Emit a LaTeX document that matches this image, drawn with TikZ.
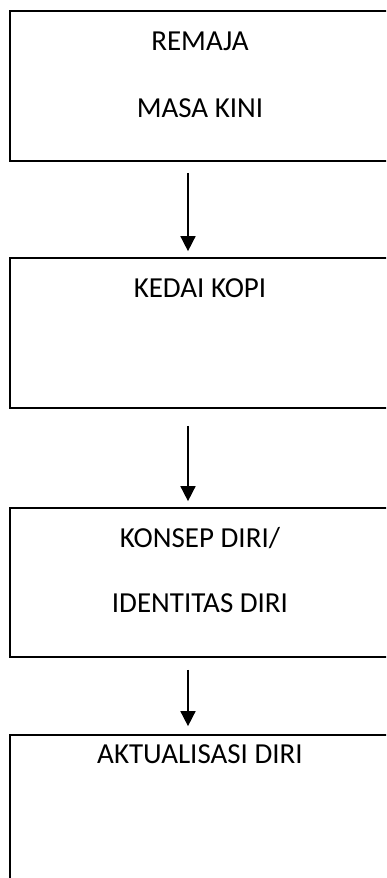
\documentclass[tikz,border=0pt]{standalone}
\usepackage{fontspec}
\setmainfont{Carlito}
\usetikzlibrary{arrows.meta}
\tikzset{
  flowbox/.style={draw=black, line width=1.7pt, rectangle, minimum width=380pt, inner sep=0pt},
  boxtext/.style={anchor=base, inner sep=0pt, font=\fontsize{29}{34}\selectfont},
  flowarrow/.style={draw=black, line width=1.6pt, -{Triangle[width=15pt,length=15pt]}},
}
\begin{document}
\begin{tikzpicture}[x=1pt,y=-1pt]
  \clip (0,0) rectangle (386,878);
  \fill[white] (0,0) rectangle (386,878);

  % boxes of the flow
  \node[flowbox, minimum height=150pt] (b1) at (200,86) {};
  \node[flowbox, minimum height=150pt] (b2) at (200,333) {};
  \node[flowbox, minimum height=149pt] (b3) at (200,582.5) {};
  \node[flowbox, minimum height=200pt] (b4) at (200,835) {};

  % labels
  \node[boxtext] (t1a) at (200,50) {REMAJA};
  \node[boxtext] (t1b) at (200,117) {MASA KINI};
  \node[boxtext] (t2)  at (200,297.5) {KEDAI KOPI};
  \node[boxtext] (t3a) at (200,547) {KONSEP DIRI/};
  \node[boxtext] (t3b) at (200,612) {IDENTITAS DIRI};
  \node[boxtext] (t4)  at (200,763) {AKTUALISASI DIRI};

  % connectors between the boxes
  \draw[flowarrow, shorten <=11pt, shorten >=6pt] ([xshift=-12pt]b1.south) -- ([xshift=-12pt]b2.north);
  \draw[flowarrow, shorten <=17pt, shorten >=6pt] ([xshift=-12pt]b2.south) -- ([xshift=-12pt]b3.north);
  \draw[flowarrow, shorten <=12pt, shorten >=8pt] ([xshift=-12pt]b3.south) -- ([xshift=-12pt]b4.north);
\end{tikzpicture}
\end{document}
